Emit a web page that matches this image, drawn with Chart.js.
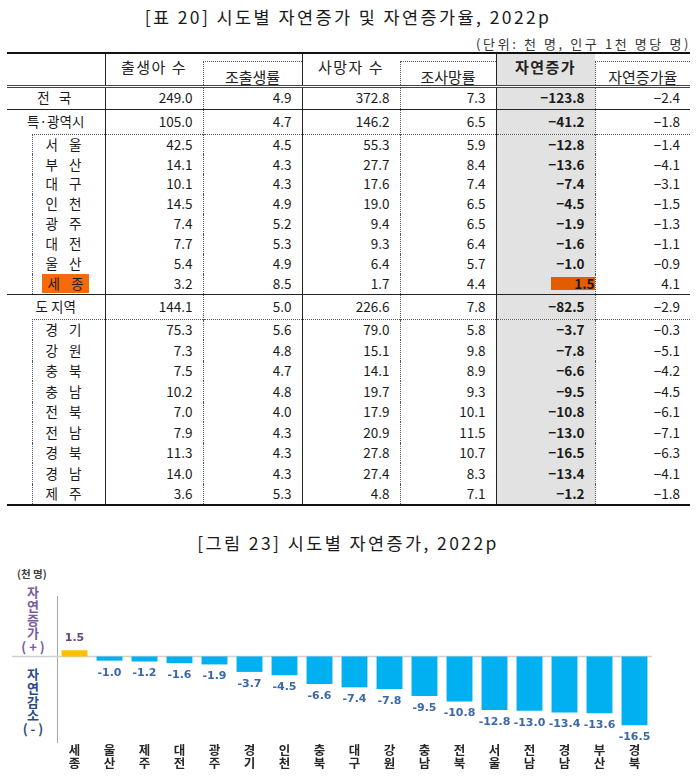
<!DOCTYPE html>
<html>
<head>
<meta charset="utf-8">
<script src="https://cdn.jsdelivr.net/npm/chart.js@4.4.0/dist/chart.umd.min.js"></script>
<style>
  body { margin: 0; width: 696px; height: 784px; background: #fff; position: relative; overflow: hidden;
         font-family: "Noto Sans CJK KR", "Noto Sans", sans-serif; color: #1a1a1a; }
  .title { position: absolute; left: 0; width: 696px; text-align: center; font-size: 17.5px; line-height: 20px; letter-spacing: 2.4px; }
  #t1 { top: 7px; }
  #t2 { top: 533px; }
  #unit { position: absolute; right: 5px; top: 36px; font-size: 13px; line-height: 16px; color: #333; letter-spacing: 2.6px; }
  table { position: absolute; left: 7px; top: 52px; border-collapse: collapse; table-layout: fixed; width: 683px;
          font-size: 13.5px; border-top: 2px solid #111; border-bottom: 2px solid #111; }
  td, th { padding: 0; font-weight: normal; line-height: 1; white-space: nowrap; overflow: hidden; }
  .num { text-align: right; padding-right: 10px; }
  .sr { border-right: 1px solid #222; }
  .dr { border-right: 1px dotted #555; }
  .dl { border-left: 1px dotted #555; }
  .dt { border-top: 1px dotted #555; }
  .grey { background: #e2e2e2; }
  .bold { font-weight: bold; }
  thead th { font-size: 15px; text-align: center; color: #222; }
  .hb { border-bottom: 3px double #444; }
  .wide { letter-spacing: 1.5px; padding-bottom: 5px; }
  .sub th, .sub td { height: 19.9px; }
  .sub2 th, .sub2 td { height: 20.5px; }
  .rowTot td { height: 21px; border-bottom: 1px solid #222; }
  .rowGrp td { height: 24px; }
  .solidTop td { border-top: 1px solid #222; }
  .name { text-align: center; }
  .tot .name { letter-spacing: 3px; }
  .sub .name, .sub2 .name { letter-spacing: 4px; }
  .hl { background: #f76a0c; padding: 0 2px 0 6px; }
  .hl2 { background: #e35c00; display: inline-block; width: 44px; text-align: right; padding-right: 0; margin-right: -10px; }
  #chartBox { position: absolute; left: 0; top: 560px; width: 696px; height: 224px; }
  .side { position: absolute; left: 18px; width: 30px; text-align: center; font-weight: bold; font-size: 13px; line-height: 13.8px; white-space: pre; }
  #plus { top: 585px; color: #7a5c9e; }
  #minus { top: 667px; color: #2b4b82; }
  #unitC { position: absolute; left: 17px; top: 566px; font-size: 10.5px; font-weight: bold; color: #404040; }
</style>
</head>
<body>
<div class="title" id="t1">[표 20] 시도별 자연증가 및 자연증가율, 2022p</div>
<div id="unit">(단위: 천 명, 인구 1천 명당 명)</div>
<table id="tbl">
  <colgroup>
    <col style="width:25px"><col style="width:73px"><col style="width:98px"><col style="width:99px">
    <col style="width:98px"><col style="width:96px"><col style="width:99px"><col style="width:95px">
  </colgroup>
  <thead>
    <tr style="height:8px">
      <th colspan="2" rowspan="2" class="sr hb"></th>
      <th rowspan="2" class="hb wide">출생아 수</th>
      <th class="sr"></th>
      <th rowspan="2" class="hb wide">사망자 수</th>
      <th class="sr"></th>
      <th rowspan="2" class="hb grey bold wide">자연증가</th>
      <th></th>
    </tr>
    <tr style="height:25px">
      <th class="dt dl sr hb" style="padding-top:6px">조출생률</th>
      <th class="dt dl sr hb" style="padding-top:6px">조사망률</th>
      <th class="dt dl hb" style="padding-top:6px">자연증가율</th>
    </tr>
  </thead>
  <tbody id="body"></tbody>
</table>

<div class="title" id="t2">[그림 23] 시도별 자연증가, 2022p</div>
<div id="unitC">(천 명)</div>
<div class="side" id="plus">자<br>연<br>증<br>가<br>( + )</div>
<div class="side" id="minus">자<br>연<br>감<br>소<br>( - )</div>
<div id="chartBox"><canvas id="chart" width="696" height="224"></canvas></div>

<script>
// table data (천 명, 인구 1천 명당 명)
const regions   = ['전 국', '특·광역시', '서 울', '부 산', '대 구', '인 천', '광 주', '대 전', '울 산', '세 종',
                   '도 지역', '경 기', '강 원', '충 북', '충 남', '전 북', '전 남', '경 북', '경 남', '제 주'];
const rowKinds  = ['tot', 'grp', 'sub', 'sub', 'sub', 'sub', 'sub', 'sub', 'sub', 'sub',
                   'grp', 'sub2', 'sub2', 'sub2', 'sub2', 'sub2', 'sub2', 'sub2', 'sub2', 'sub2'];
const births    = [249.0, 105.0, 42.5, 14.1, 10.1, 14.5, 7.4, 7.7, 5.4, 3.2,
                   144.1, 75.3, 7.3, 7.5, 10.2, 7.0, 7.9, 11.3, 14.0, 3.6];
const birthRate = [4.9, 4.7, 4.5, 4.3, 4.3, 4.9, 5.2, 5.3, 4.9, 8.5,
                   5.0, 5.6, 4.8, 4.7, 4.8, 4.0, 4.3, 4.3, 4.3, 5.3];
const deaths    = [372.8, 146.2, 55.3, 27.7, 17.6, 19.0, 9.4, 9.3, 6.4, 1.7,
                   226.6, 79.0, 15.1, 14.1, 19.7, 17.9, 20.9, 27.8, 27.4, 4.8];
const deathRate = [7.3, 6.5, 5.9, 8.4, 7.4, 6.5, 6.5, 6.4, 5.7, 4.4,
                   7.8, 5.8, 9.8, 8.9, 9.3, 10.1, 11.5, 10.7, 8.3, 7.1];
const natInc    = [-123.8, -41.2, -12.8, -13.6, -7.4, -4.5, -1.9, -1.6, -1.0, 1.5,
                   -82.5, -3.7, -7.8, -6.6, -9.5, -10.8, -13.0, -16.5, -13.4, -1.2];
const natRate   = [-2.4, -1.8, -1.4, -4.1, -3.1, -1.5, -1.3, -1.1, -0.9, 4.1,
                   -2.9, -0.3, -5.1, -4.2, -4.5, -6.1, -7.1, -6.3, -4.1, -1.8];
const highlight = '세 종';

// chart data, sorted as in the figure
const categories = ['세종', '울산', '제주', '대전', '광주', '경기', '인천', '충북', '대구',
                    '강원', '충남', '전북', '서울', '전남', '경남', '부산', '경북'];
const increase   = [1.5, -1.0, -1.2, -1.6, -1.9, -3.7, -4.5, -6.6, -7.4,
                    -7.8, -9.5, -10.8, -12.8, -13.0, -13.4, -13.6, -16.5];

const fmt = v => (v < 0 ? '\u2212' : '') + Math.abs(v).toFixed(1);

// build table rows
const body = document.getElementById('body');
regions.forEach((name, i) => {
  const kind = rowKinds[i];
  const tr = document.createElement('tr');
  const isSub = kind === 'sub' || kind === 'sub2';
  const firstSub = isSub && rowKinds[i - 1] === 'grp';
  tr.className = kind === 'tot' ? 'rowTot tot' : kind === 'grp' ? 'rowGrp' : kind;
  if (kind === 'grp' && i > 1) tr.classList.add('solidTop');
  const dt = firstSub ? ' dt' : '';
  let html = '';
  const label = name === highlight ? '<span class="hl">' + name + '</span>' : name;
  if (isSub) {
    html += '<td></td><td class="name sr dl' + dt + '" style="padding-right:6px">' + label + '</td>';
  } else {
    html += '<td colspan="2" class="name sr">' + label + '</td>';
  }
  const inc = name === highlight ? '<span class="hl2">' + fmt(natInc[i]) + '</span>' : fmt(natInc[i]);
  html += '<td class="num dr' + dt + '">' + births[i].toFixed(1) + '</td>';
  html += '<td class="num sr' + dt + '">' + birthRate[i].toFixed(1) + '</td>';
  html += '<td class="num dr' + dt + '">' + deaths[i].toFixed(1) + '</td>';
  html += '<td class="num sr' + dt + '">' + deathRate[i].toFixed(1) + '</td>';
  html += '<td class="num dr grey bold' + dt + '">' + inc + '</td>';
  html += '<td class="num' + dt + '">' + fmt(natRate[i]) + '</td>';
  tr.innerHTML = html;
  if (name === highlight) tr.querySelectorAll('td').forEach(td => td.style.borderBottom = '1px solid #222');
  body.appendChild(tr);
});

// zero line + value labels
const barLabels = {
  id: 'barLabels',
  beforeDatasetsDraw(chart) {
    const { ctx, chartArea, scales: { y } } = chart;
    const y0 = y.getPixelForValue(0);
    ctx.save();
    ctx.strokeStyle = '#d0d0d0';
    ctx.lineWidth = 1.5;
    ctx.beginPath();
    ctx.moveTo(12, y0);
    ctx.lineTo(chartArea.right, y0);
    ctx.stroke();
    ctx.restore();
  },
  afterDatasetsDraw(chart) {
    const { ctx } = chart;
    const meta = chart.getDatasetMeta(0);
    ctx.save();
    ctx.font = 'bold 11px "DejaVu Sans"';
    ctx.textAlign = 'center';
    ctx.textBaseline = 'middle';
    meta.data.forEach((bar, i) => {
      const v = increase[i];
      ctx.fillStyle = v >= 0 ? '#5f497a' : '#3b68a8';
      ctx.fillText(v.toFixed(1), bar.x, v >= 0 ? bar.y - 12 : bar.y + 12);
    });
    ctx.restore();
  }
};

new Chart(document.getElementById('chart'), {
  type: 'bar',
  data: {
    labels: categories.map(c => c.split('')),
    datasets: [{
      data: increase,
      backgroundColor: increase.map(v => v >= 0 ? '#ffc000' : '#00b0f0'),
      categoryPercentage: 1,
      barPercentage: 0.74
    }]
  },
  options: {
    responsive: false,
    animation: false,
    events: [],
    layout: { padding: { left: 57, right: 44, top: 36, bottom: 13 } },
    plugins: { legend: { display: false }, tooltip: { enabled: false } },
    scales: {
      x: {
        grid: { display: false, drawTicks: false },
        border: { display: false },
        ticks: {
          autoSkip: false, maxRotation: 0, padding: 1, color: '#262626',
          font: { family: '"Noto Sans CJK KR"', size: 12.5, weight: 'bold', lineHeight: 1.08 }
        }
      },
      y: {
        min: -20.5,
        max: 14.5,
        ticks: { display: false },
        grid: { display: false, drawTicks: false },
        border: { color: '#a6a6a6', width: 1 }
      }
    }
  },
  plugins: [barLabels]
});
</script>
</body>
</html>
